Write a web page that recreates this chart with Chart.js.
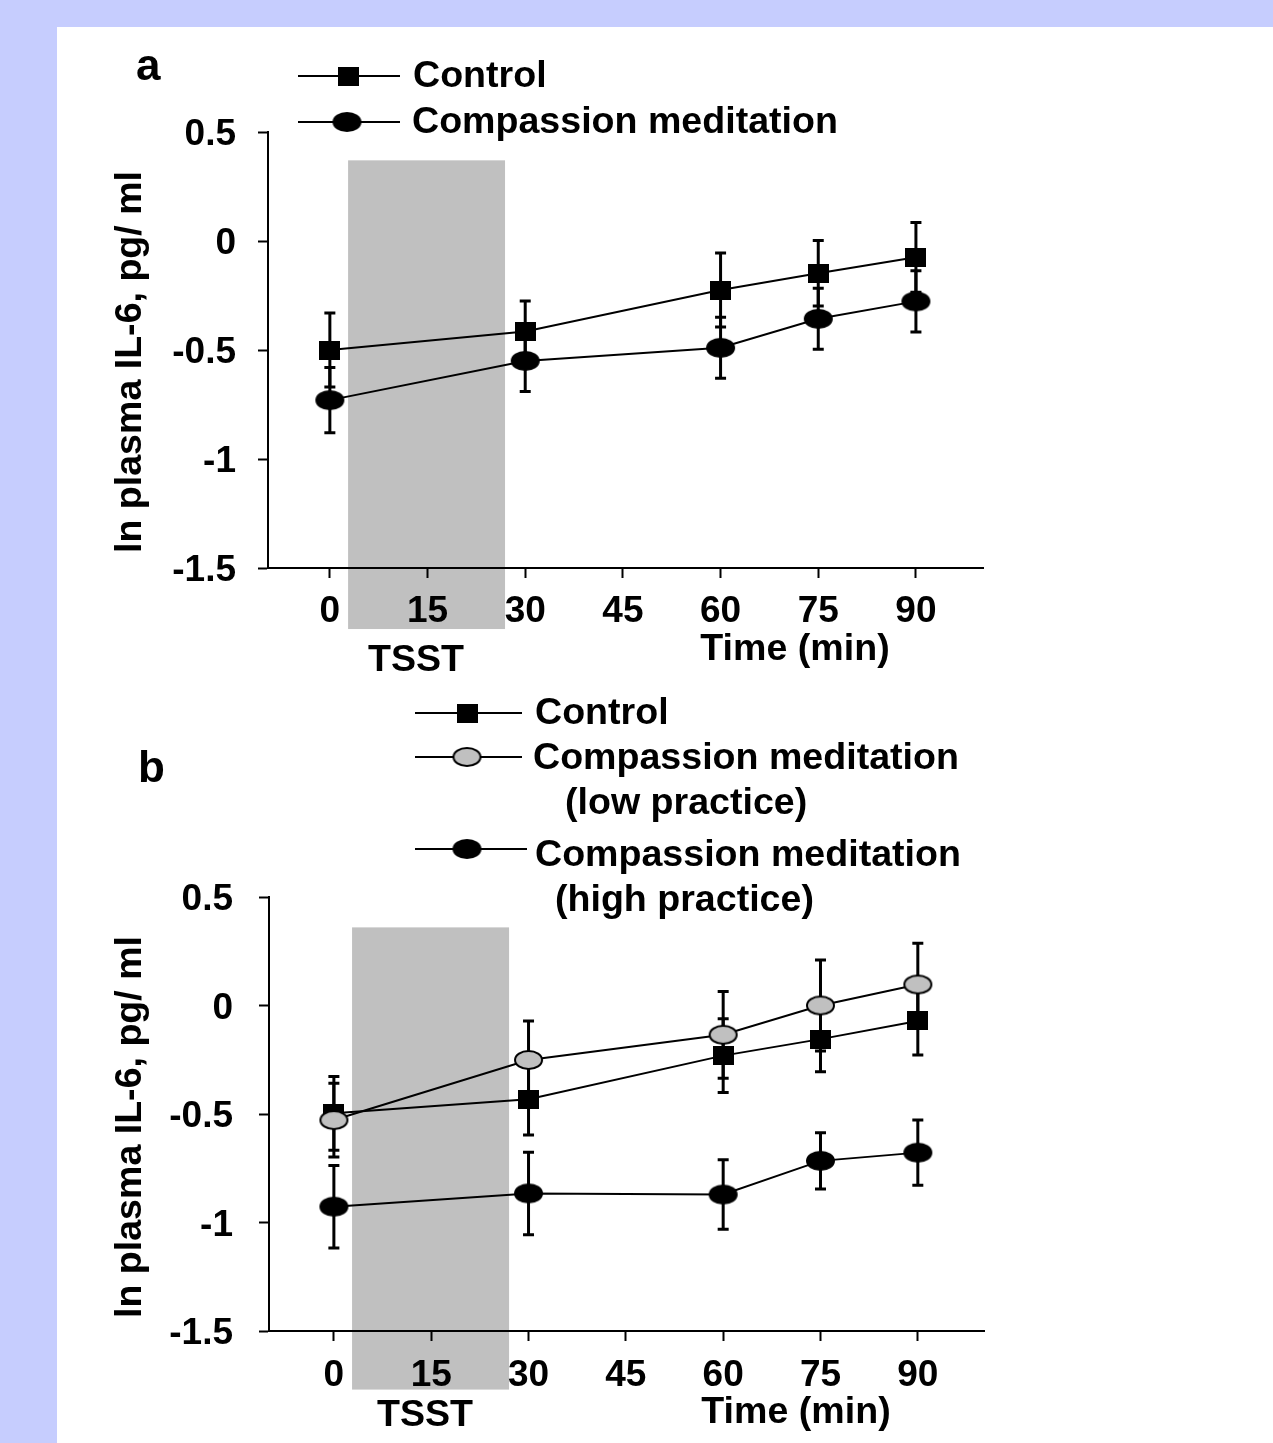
<!DOCTYPE html>
<html><head><meta charset="utf-8">
<script src="https://cdn.jsdelivr.net/npm/chart.js@4/dist/chart.umd.min.js"></script>
<style>
html,body{margin:0;padding:0;background:#C6CDFE;width:1273px;height:1443px;overflow:hidden}
#panel{position:absolute;left:57px;top:27px;width:1216px;height:1416px;background:#fff}
canvas{position:absolute;left:0}
#ca{top:0}
#cb{top:685px}
</style></head><body>
<div id="panel"></div>
<canvas id="ca" width="1273" height="685"></canvas>
<canvas id="cb" width="1273" height="758"></canvas>
<script>
// ---- data ----
const times = [0, 30, 60, 75, 90];
const xTicks = [0, 15, 30, 45, 60, 75, 90];
const yTicks = [-1.5, -1, -0.5, 0, 0.5];
const yTickLabels = ['-1.5', '-1', '-0.5', '0', '0.5'];

const aControl = [-0.50, -0.415, -0.225, -0.148, -0.075];
const aControlErr = [0.17, 0.14, 0.17, 0.15, 0.16];
const aCompassion = [-0.73, -0.55, -0.49, -0.357, -0.277];
const aCompassionErr = [0.15, 0.14, 0.14, 0.14, 0.14];

const bControl = [-0.497, -0.432, -0.231, -0.155, -0.071];
const bControlErr = [0.17, 0.165, 0.17, 0.15, 0.157];
const bLow = [-0.528, -0.251, -0.135, 0.0, 0.097];
const bLowErr = [0.17, 0.18, 0.2, 0.21, 0.19];
const bHigh = [-0.927, -0.866, -0.871, -0.716, -0.678];
const bHighErr = [0.19, 0.19, 0.16, 0.13, 0.15];

// TSST shaded period (minutes) and its vertical extent (value units)
const aShade = {from: 2.8, to: 26.9, top: 0.37, bottom: -1.78};
const bShade = {from: 2.8, to: 27.0, top: 0.36, bottom: -1.77};

const labelControl = 'Control';
const labelCompassion = 'Compassion meditation';
const labelLow = ['Compassion meditation', '(low practice)'];
const labelHigh = ['Compassion meditation', '(high practice)'];
const yTitle = 'ln plasma IL-6, pg/ ml';
const xTitle = 'Time (min)';
const tsstLabel = 'TSST';

// ---- marker images ----
const FONT = "'Liberation Sans', Arial, sans-serif";
const TXT = 37.6;
function ellipseImg(w, h, fill) {
  const c = document.createElement('canvas');
  c.width = w + 4; c.height = h + 4;
  const g = c.getContext('2d');
  g.beginPath();
  g.ellipse(c.width / 2, c.height / 2, w / 2, h / 2, 0, 0, Math.PI * 2);
  g.fillStyle = fill; g.fill();
  g.lineWidth = 2; g.strokeStyle = '#000'; g.stroke();
  return c;
}
function rectImg(w, h) {
  const c = document.createElement('canvas');
  c.width = w; c.height = h;
  const g = c.getContext('2d');
  g.fillStyle = '#000'; g.fillRect(0, 0, w, h);
  return c;
}
const sqMark = rectImg(21, 19);
const blackEll = ellipseImg(27, 18, '#000');
const grayEll = ellipseImg(27, 18, '#C0C0C0');

function pts(vals) { return times.map((t, i) => ({x: t, y: vals[i]})); }

function ds(label, vals, errs, marker, order) {
  return {
    label, data: pts(vals), errors: errs,
    borderColor: '#000', borderWidth: 2, fill: false, tension: 0,
    pointStyle: marker, pointRadius: 10, pointHoverRadius: 10,
    order
  };
}

// error bars drawn under markers
const errorBars = {
  id: 'errorBars',
  beforeDatasetsDraw(chart) {
    const ctx = chart.ctx;
    const xs = chart.scales.x, ys = chart.scales.y;
    ctx.save();
    ctx.strokeStyle = '#000';
    ctx.lineWidth = 3;
    chart.data.datasets.forEach(d => {
      d.data.forEach((p, i) => {
        const e = d.errors[i];
        const x = xs.getPixelForValue(p.x);
        const y1 = ys.getPixelForValue(p.y + e);
        const y2 = ys.getPixelForValue(p.y - e);
        ctx.beginPath();
        ctx.moveTo(x, y1); ctx.lineTo(x, y2);
        ctx.moveTo(x - 5.5, y1); ctx.lineTo(x + 5.5, y1);
        ctx.moveTo(x - 5.5, y2); ctx.lineTo(x + 5.5, y2);
        ctx.stroke();
      });
    });
    ctx.restore();
  }
};

// shaded TSST box drawn behind everything
function shadePlugin(shade) {
  return {
    id: 'shade',
    beforeDraw(chart) {
      const ctx = chart.ctx;
      const xs = chart.scales.x, ys = chart.scales.y;
      const x1 = xs.getPixelForValue(shade.from), x2 = xs.getPixelForValue(shade.to);
      const y1 = ys.getPixelForValue(shade.top), y2 = ys.getPixelForValue(shade.bottom);
      ctx.save();
      ctx.fillStyle = '#C0C0C0';
      ctx.fillRect(x1, y1, x2 - x1, y2 - y1);
      ctx.restore();
    }
  };
}

// texts: panel letter, legend, TSST, Time, y title
function textPlugin(cfg) {
  return {
    id: 'texts',
    afterDraw(chart) {
      const ctx = chart.ctx;
      ctx.save();
      ctx.fillStyle = '#000';
      ctx.textBaseline = 'middle';
      ctx.font = 'bold 44px ' + FONT;
      ctx.textAlign = 'left';
      ctx.fillText(cfg.letter[0], cfg.letter[1], cfg.letter[2]);
      ctx.font = 'bold ' + TXT + 'px ' + FONT;
      cfg.legend.forEach(item => {
        if (item.line) {
          ctx.strokeStyle = '#000'; ctx.lineWidth = 2;
          ctx.beginPath();
          ctx.moveTo(item.line[0], item.line[2]);
          ctx.lineTo(item.line[1], item.line[2]);
          ctx.stroke();
          const m = item.marker;
          ctx.drawImage(m, item.mx - m.width / 2, item.line[2] - m.height / 2);
        }
        ctx.textAlign = 'left';
        ctx.fillText(item.text, item.tx, item.ty);
      });
      ctx.textAlign = 'center';
      ctx.fillText(tsstLabel, cfg.tsst[0], cfg.tsst[1]);
      ctx.fillText(xTitle, cfg.time[0], cfg.time[1]);
      ctx.translate(cfg.ytitle[0], cfg.ytitle[1]);
      ctx.rotate(-Math.PI / 2);
      ctx.fillText(yTitle, 0, 0);
      ctx.restore();
    }
  };
}

function makeOptions(xmin, xmax, yWidth, xHeight, pad, yPad, xPad) {
  const tickFont = {family: FONT, size: 37, weight: 'bold'};
  return {
    responsive: false, animation: false,
    layout: {padding: pad},
    plugins: {legend: {display: false}, tooltip: {enabled: false}},
    events: [],
    scales: {
      x: {
        type: 'linear', min: xmin, max: xmax,
        afterBuildTicks(s) { s.ticks = xTicks.map(v => ({value: v})); },
        afterFit(s) { s.height = xHeight; },
        ticks: {font: tickFont, color: '#000', padding: xPad, maxRotation: 0,
          callback: v => String(v)},
        grid: {display: true, drawOnChartArea: false, drawTicks: true, tickLength: 10,
          tickWidth: 2, color: '#000'},
        border: {display: true, color: '#000', width: 2}
      },
      y: {
        type: 'linear', min: -1.5, max: 0.5,
        afterBuildTicks(s) { s.ticks = yTicks.map(v => ({value: v})); },
        afterFit(s) { s.width = yWidth; },
        ticks: {font: tickFont, color: '#000', padding: yPad, labelOffset: 3,
          callback: (v) => yTickLabels[yTicks.indexOf(v)]},
        grid: {display: true, drawOnChartArea: false, drawTicks: true, tickLength: 10,
          tickWidth: 2, color: '#000'},
        border: {display: true, color: '#000', width: 2}
      }
    }
  };
}

new Chart(document.getElementById('ca'), {
  type: 'line',
  data: {datasets: [
    ds(labelControl, aControl, aControlErr, sqMark, 0),
    ds(labelCompassion, aCompassion, aCompassionErr, blackEll, 1)
  ]},
  options: makeOptions(-9.5, 100.3, 268, 117, {left: 0, right: 290, top: 132, bottom: 0}, 22, 12),
  plugins: [shadePlugin(aShade), errorBars, textPlugin({
    letter: ['a', 136, 68],
    legend: [
      {line: [298, 400, 76], marker: sqMark, mx: 348, text: labelControl, tx: 413, ty: 77},
      {line: [298, 400, 122], marker: blackEll, mx: 347, text: labelCompassion, tx: 412, ty: 123}
    ],
    tsst: [416, 661],
    time: [795, 650],
    ytitle: [131, 362]
  })]
});

new Chart(document.getElementById('cb'), {
  type: 'line',
  data: {datasets: [
    ds(labelControl, bControl, bControlErr, sqMark, 1),
    ds(labelLow.join(' '), bLow, bLowErr, grayEll, 0),
    ds(labelHigh.join(' '), bHigh, bHighErr, blackEll, 2)
  ]},
  options: makeOptions(-10.0, 100.2, 269, 112, {left: 0, right: 289, top: 212, bottom: 0}, 26, 13),
  plugins: [shadePlugin(bShade), errorBars, textPlugin({
    letter: ['b', 138, 770 - 685],
    legend: [
      {line: [415, 522, 713 - 685], marker: sqMark, mx: 467, text: labelControl, tx: 535, ty: 714 - 685},
      {line: [415, 522, 757 - 685], marker: grayEll, mx: 467, text: labelLow[0], tx: 533, ty: 759 - 685},
      {text: labelLow[1], tx: 565, ty: 804 - 685},
      {line: [415, 527, 849 - 685], marker: blackEll, mx: 467, text: labelHigh[0], tx: 535, ty: 856 - 685},
      {text: labelHigh[1], tx: 555, ty: 901 - 685}
    ],
    tsst: [425, 1416 - 685],
    time: [796, 1413 - 685],
    ytitle: [131, 1127 - 685]
  })]
});
</script>
</body></html>
